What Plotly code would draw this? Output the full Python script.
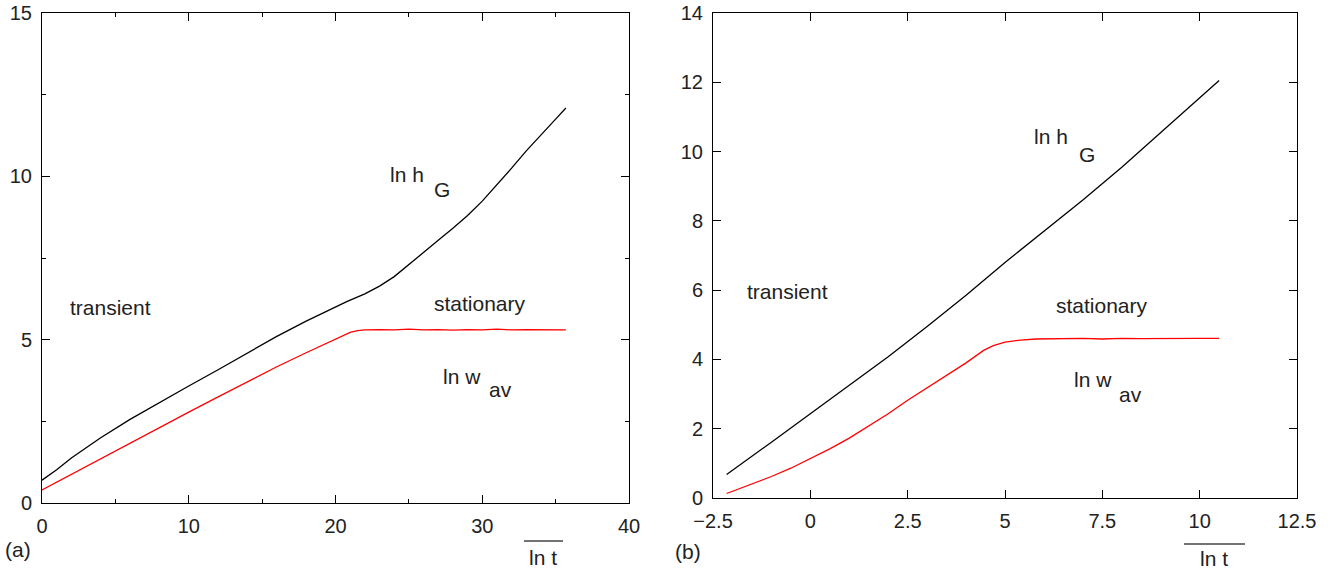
import plotly.graph_objects as go

# ---------------- data ----------------
# panel (a)
a_h_x = [0, 1, 2, 3, 4, 6, 8, 10, 12, 14, 16, 18, 20, 20.8, 22, 23, 24, 25, 26, 27,
         28, 29, 30, 31, 32, 33, 34, 35, 35.7]
a_h_y = [0.70, 1.02, 1.38, 1.70, 2.00, 2.56, 3.08, 3.58, 4.08, 4.60, 5.10, 5.57, 6.00,
         6.17, 6.40, 6.64, 6.93, 7.31, 7.68, 8.04, 8.41, 8.80, 9.24, 9.74, 10.25,
         10.78, 11.25, 11.75, 12.09]
a_w_x = [0, 2, 4, 6, 8, 10, 12, 14, 16, 18, 19, 20, 21, 21.5, 22, 23, 24, 25, 26, 27,
         28, 29, 30, 31, 32, 33, 34, 35, 35.7]
a_w_y = [0.40, 0.88, 1.36, 1.84, 2.31, 2.78, 3.25, 3.72, 4.17, 4.60, 4.80, 5.02, 5.22,
         5.28, 5.30, 5.31, 5.30, 5.32, 5.30, 5.31, 5.29, 5.31, 5.30, 5.32, 5.30, 5.31,
         5.30, 5.31, 5.30]
# panel (b)
b_h_x = [-2.15, -1.5, -1, 0, 1, 2, 3, 4, 5, 6, 7, 8, 9, 10, 10.5]
b_h_y = [0.68, 1.20, 1.61, 2.43, 3.25, 4.08, 4.95, 5.85, 6.80, 7.70, 8.60, 9.55, 10.55,
         11.55, 12.05]
b_w_x = [-2.15, -1.5, -1, -0.5, 0, 0.5, 1, 1.5, 2, 2.5, 3, 3.5, 4, 4.45, 4.7, 5, 5.4,
         5.8, 6.3, 7, 7.5, 8, 8.5, 9, 9.5, 10, 10.5]
b_w_y = [0.13, 0.40, 0.62, 0.86, 1.13, 1.42, 1.73, 2.07, 2.43, 2.82, 3.18, 3.52, 3.90,
         4.26, 4.40, 4.50, 4.56, 4.59, 4.60, 4.61, 4.59, 4.61, 4.60, 4.61, 4.60, 4.61,
         4.61]

W, H = 1330, 572
FONT = "Liberation Sans, Arial, Helvetica, sans-serif"
TXT = "#222222"

def px(x):
    return x / W

def py(y):
    return 1 - y / H

fig = go.Figure()
fig.add_trace(go.Scatter(x=a_h_x, y=a_h_y, mode="lines", line=dict(color="black", width=1.3),
                         xaxis="x", yaxis="y", showlegend=False))
fig.add_trace(go.Scatter(x=a_w_x, y=a_w_y, mode="lines", line=dict(color="#ff0000", width=1.3),
                         xaxis="x", yaxis="y", showlegend=False))
fig.add_trace(go.Scatter(x=b_h_x, y=b_h_y, mode="lines", line=dict(color="black", width=1.3),
                         xaxis="x2", yaxis="y2", showlegend=False))
fig.add_trace(go.Scatter(x=b_w_x, y=b_w_y, mode="lines", line=dict(color="#ff0000", width=1.3),
                         xaxis="x2", yaxis="y2", showlegend=False))

common = dict(showline=True, linecolor="black", linewidth=1, mirror="allticks",
              ticks="inside", ticklen=8, tickwidth=1, tickcolor="black",
              showgrid=False, zeroline=False, tickfont=dict(family=FONT, size=20, color=TXT),
              ticklabelstandoff=5, automargin=False)

fig.update_layout(
    width=W, height=H,
    margin=dict(l=0, r=0, t=0, b=0),
    paper_bgcolor="white", plot_bgcolor="white",
    xaxis=dict(domain=[px(42), px(629)], range=[0, 40], dtick=10, anchor="y",
               minor=dict(ticks="inside", ticklen=4, dtick=5, tickcolor="black"), **common),
    yaxis=dict(domain=[py(503), py(13)], range=[0, 15], dtick=5, anchor="x",
               minor=dict(ticks="inside", ticklen=4, dtick=2.5, tickcolor="black"), **common),
    xaxis2=dict(domain=[px(713), px(1297)], range=[-2.5, 12.5], dtick=2.5, anchor="y2", **common),
    yaxis2=dict(domain=[py(498), py(13)], range=[0, 14], dtick=2, anchor="x2", **common),
)

def txt(text, x, y, xref, yref, size=21, xanchor="left"):
    fig.add_annotation(text=text, x=x, y=y, xref=xref, yref=yref, showarrow=False,
                       xanchor=xanchor, yanchor="middle",
                       font=dict(family=FONT, size=size, color=TXT))

# panel (a) labels
txt("transient", 1.75, 6.0, "x", "y")
txt("ln h", 23.6, 10.05, "x", "y")
txt("G", 26.55, 9.6, "x", "y")
txt("stationary", 26.6, 6.1, "x", "y")
txt("ln w", 27.2, 3.86, "x", "y")
txt("av", 30.3, 3.46, "x", "y")
# panel (b) labels
txt("transient", -1.68, 5.96, "x2", "y2")
txt("ln h", 5.69, 10.43, "x2", "y2")
txt("G", 6.85, 9.91, "x2", "y2")
txt("stationary", 6.26, 5.56, "x2", "y2")
txt("ln w", 6.73, 3.43, "x2", "y2")
txt("av", 7.88, 3.0, "x2", "y2")

# panel tags and axis titles
txt("(a)", px(18), py(549), "paper", "paper", xanchor="center")
txt("(b)", px(688), py(551), "paper", "paper", xanchor="center")
txt("ln t", px(543), py(557), "paper", "paper", xanchor="center")
txt("ln t", px(1214), py(558), "paper", "paper", xanchor="center")
fig.add_shape(type="line", xref="paper", yref="paper", x0=px(524), x1=px(563),
              y0=py(541), y1=py(541), line=dict(color="#444444", width=1.5))
fig.add_shape(type="line", xref="paper", yref="paper", x0=px(1184), x1=px(1245),
              y0=py(544), y1=py(544), line=dict(color="#444444", width=1.5))

fig.write_html("out.html")
